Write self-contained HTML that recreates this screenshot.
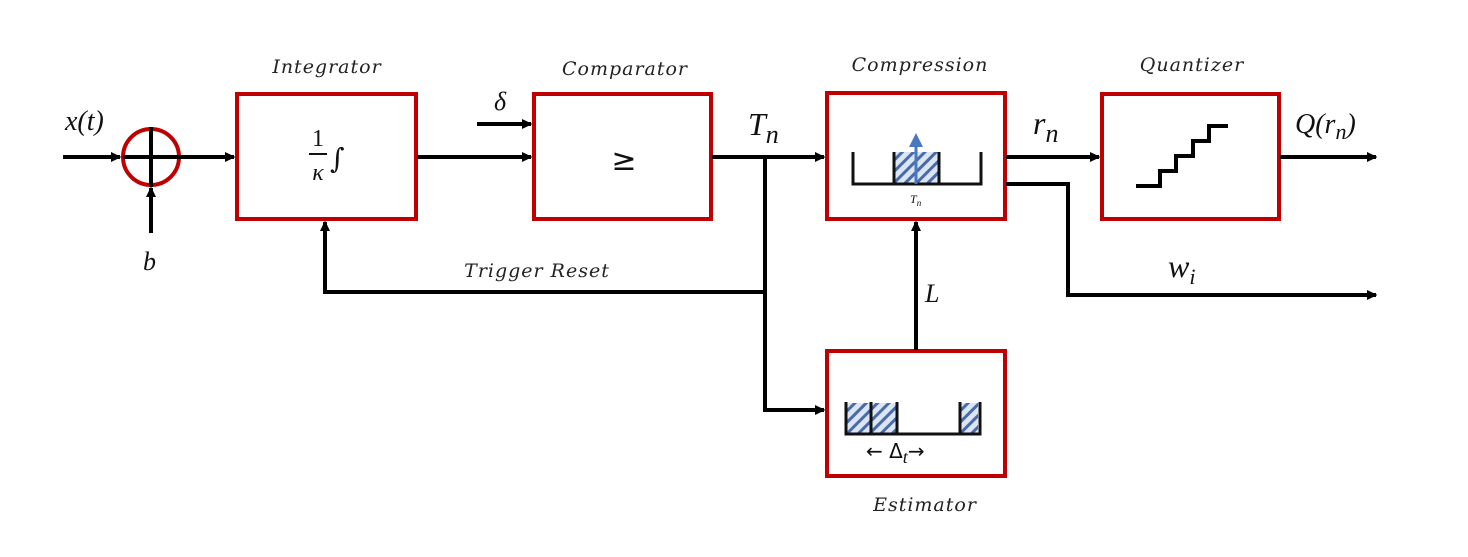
<!DOCTYPE html>
<html><head><meta charset="utf-8"><style>
html,body{margin:0;padding:0;background:#fff;}
svg{display:block}
.lbl{font-family:"DejaVu Serif","Liberation Serif",serif;font-style:italic;font-size:19px;fill:#222;letter-spacing:1px}
.m{font-family:"Liberation Serif",serif;font-style:italic;fill:#111}
</style></head><body>
<svg width="1468" height="557" viewBox="0 0 1468 557" xmlns="http://www.w3.org/2000/svg">
<defs>
<marker id="a" markerWidth="10" markerHeight="10" refX="9" refY="5" orient="auto" markerUnits="userSpaceOnUse">
<path d="M0,0 L14,5 L0,10 z" transform="scale(0.75,1)" fill="#000"/>
</marker>
<pattern id="h" width="8" height="8" patternUnits="userSpaceOnUse" patternTransform="rotate(45)">
<rect width="8" height="8" fill="#dbe6f5"/><rect width="3" height="8" fill="#4a6aa8"/>
</pattern>
</defs>
<rect width="1468" height="557" fill="#fff"/>
<g fill="#fff" stroke="#c00000" stroke-width="4">
<rect x="237" y="94" width="179" height="125"/>
<rect x="534" y="94" width="177" height="125"/>
<rect x="827" y="93" width="178" height="126"/>
<rect x="1102" y="94" width="177" height="125"/>
<rect x="827" y="351" width="178" height="125"/>
<circle cx="151" cy="157" r="28"/>
</g>
<g stroke="#000" stroke-width="4" fill="none">
<line x1="63" y1="157" x2="120" y2="157" marker-end="url(#a)"/>
<line x1="123" y1="157" x2="180" y2="157"/>
<line x1="151" y1="127" x2="151" y2="187"/>
<line x1="151" y1="233" x2="151" y2="188" marker-end="url(#a)"/>
<line x1="180" y1="157" x2="234" y2="157" marker-end="url(#a)"/>
<line x1="417" y1="157" x2="531" y2="157" marker-end="url(#a)"/>
<line x1="477" y1="124" x2="531" y2="124" marker-end="url(#a)"/>
<line x1="712" y1="157" x2="824" y2="157" marker-end="url(#a)"/>
<polyline points="765,157 765,410 824,410" marker-end="url(#a)"/>
<polyline points="765,292 325,292 325,222" marker-end="url(#a)"/>
<line x1="916" y1="350" x2="916" y2="222" marker-end="url(#a)"/>
<line x1="1006" y1="157" x2="1099" y2="157" marker-end="url(#a)"/>
<polyline points="1006,184 1068,184 1068,295 1376,295" marker-end="url(#a)"/>
<line x1="1280" y1="157" x2="1376" y2="157" marker-end="url(#a)"/>
<polyline points="1136,186 1160,186 1160,171 1176,171 1176,156 1193,156 1193,141 1209,141 1209,126 1228,126"/>
</g>
<!-- compression internals -->
<rect x="895" y="152" width="44" height="32" fill="url(#h)"/>
<polyline points="853,152 853,184 981,184 981,152" fill="none" stroke="#111" stroke-width="3"/>
<line x1="894" y1="152" x2="894" y2="184" stroke="#111" stroke-width="3"/>
<line x1="939" y1="152" x2="939" y2="184" stroke="#111" stroke-width="3"/>
<line x1="916" y1="184" x2="916" y2="144" stroke="#4a78c0" stroke-width="3"/>
<path d="M909,147 L916,133 L923,147 z" fill="#4a78c0"/>
<text x="910" y="203" class="m" font-size="12">T<tspan font-size="9" dy="3">n</tspan></text>
<!-- estimator internals -->
<rect x="847" y="403" width="50" height="31" fill="url(#h)"/>
<rect x="960" y="403" width="18" height="31" fill="url(#h)"/>
<polyline points="846,402 846,434 980,434 980,402" fill="none" stroke="#111" stroke-width="3"/>
<line x1="871" y1="402" x2="871" y2="434" stroke="#111" stroke-width="3"/>
<line x1="897" y1="402" x2="897" y2="434" stroke="#111" stroke-width="3"/>
<line x1="960" y1="402" x2="960" y2="434" stroke="#111" stroke-width="3"/>
<text x="866" y="458" font-family="DejaVu Sans,sans-serif" font-size="20" fill="#111">← Δ<tspan class="m" font-size="18" dy="5">t</tspan><tspan dy="-5">→</tspan></text>
<!-- labels -->
<text x="327" y="73" class="lbl" text-anchor="middle">Integrator</text>
<text x="625" y="75" class="lbl" text-anchor="middle">Comparator</text>
<text x="920" y="71" class="lbl" text-anchor="middle">Compression</text>
<text x="1192" y="71" class="lbl" text-anchor="middle">Quantizer</text>
<text x="537" y="277" class="lbl" text-anchor="middle">Trigger Reset</text>
<text x="925" y="511" class="lbl" text-anchor="middle">Estimator</text>
<text x="65" y="130" class="m" font-size="28">x(t)</text>
<text x="143" y="270" class="m" font-size="26">b</text>
<text x="494" y="110" class="m" font-size="26">δ</text>
<text x="748" y="135" class="m" font-size="32">T<tspan font-size="26" dy="8">n</tspan></text>
<text x="1033" y="134" class="m" font-size="32">r<tspan font-size="26" dy="8">n</tspan></text>
<text x="1295" y="133" class="m" font-size="28">Q(r<tspan font-size="22" dy="6">n</tspan><tspan dy="-6">)</tspan></text>
<text x="1168" y="277" class="m" font-size="32">w<tspan font-size="22" dy="7">i</tspan></text>
<text x="925" y="302" class="m" font-size="26">L</text>
<text x="624" y="170" font-family="DejaVu Sans,sans-serif" font-size="30" fill="#111" text-anchor="middle">≥</text>
<text x="318" y="146" font-family="Liberation Serif,serif" font-size="24" fill="#111" text-anchor="middle">1</text>
<line x1="309" y1="154" x2="327" y2="154" stroke="#111" stroke-width="2"/>
<text x="318" y="180" class="m" font-size="24" text-anchor="middle">κ</text>
<text x="330" y="168" font-family="DejaVu Serif,serif" font-size="28" fill="#111">∫</text>
</svg>
</body></html>
